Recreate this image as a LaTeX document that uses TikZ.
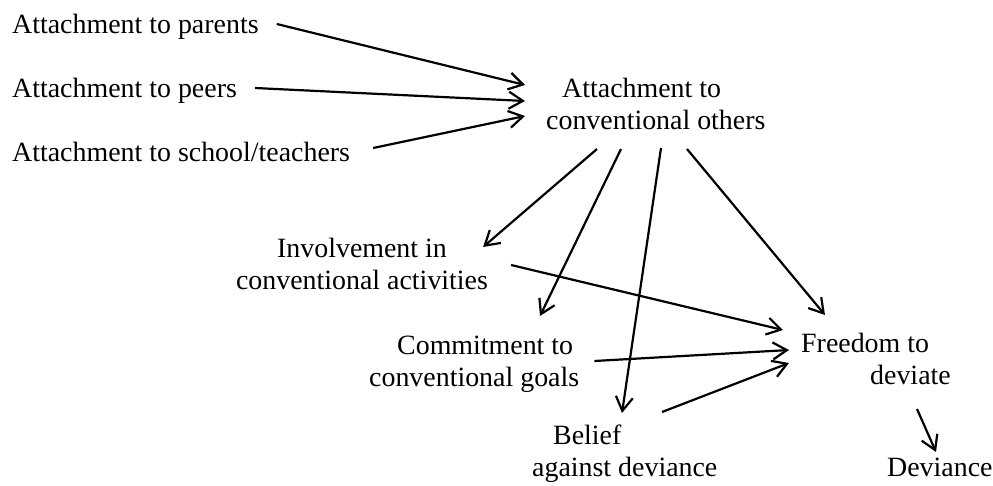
\documentclass[tikz,border=0pt]{standalone}
\usepackage{fontspec}
\setmainfont{Liberation Serif}
\usetikzlibrary{arrows.meta, calc}

\begin{document}
\begin{tikzpicture}[
    x=1pt, y=-1pt,
    % Label style
    lbl/.style={
        inner sep=0pt,
        anchor=base west,
        align=left,
        font=\fontsize{27.9}{32}\selectfont
    },
    % Arrow style
    arrow/.style={
        -{Straight Barb[length=14pt, width=17pt]},
        line width=2.2pt,
        black
    }
]
\useasboundingbox (0,0) rectangle (993,485);

% === Attachment sources ===
\node[lbl] (par) at (12,33) {Attachment to parents};
\node[lbl] (peer) at (12,97) {Attachment to peers};
\node[lbl] (sch) at (12,161) {Attachment to school/teachers};

% === Central node (base = last line) ===
\node[lbl] (ato) at (546,129) {\hspace*{16pt}Attachment to\\conventional others};

% === Bonds ===
\node[lbl, anchor=base, align=center] (inv) at (362,289) {Involvement in\\conventional activities};
\node[lbl] (com) at (369,386) {\hspace*{28pt}Commitment to\\conventional goals};
\node[lbl] (bel) at (532,476) {\hspace*{21pt}Belief\\against deviance};

% === Outcomes ===
\node[lbl] (free) at (801,384) {Freedom to\\\hspace*{69pt}deviate};
\node[lbl] (dev) at (887,476) {Deviance};

% === Arrows into attachment ===
\draw[arrow] ($(par.base east)+(18,-9)$) -- ($(ato.base west)+(-21,-44)$);
\draw[arrow] ($(peer.base east)+(18,-9)$) -- ($(ato.base west)+(-21,-28)$);
\draw[arrow] ($(sch.base east)+(23,-13)$) -- ($(ato.base west)+(-21,-13)$);

% === Arrows out of attachment ===
\draw[arrow] ($(ato.base west)+(51,20)$) -- ($(inv.base east)+(-5,-42)$);
\draw[arrow] ($(ato.base west)+(75,20)$) -- ($(com.base west)+(171,-70)$);
\draw[arrow] ($(ato.base west)+(115,19)$) -- ($(bel.base west)+(90,-63)$);
\draw[arrow] ($(ato.base west)+(141,20)$) -- ($(free.base west)+(24,-69)$);

% === Arrows into freedom ===
\draw[arrow] ($(inv.base east)+(23,-24)$) -- ($(free.base west)+(-18,-54)$);
\draw[arrow] ($(com.base east)+(15,-25)$) -- ($(free.base west)+(-12,-34)$);
\draw[arrow] ($(bel.base west)+(130,-64)$) -- ($(free.base west)+(-12,-21)$);

% === Final arrow ===
\draw[arrow] ($(free.base west)+(116,25)$) -- ($(dev.base west)+(49,-24)$);

\end{tikzpicture}
\end{document}
